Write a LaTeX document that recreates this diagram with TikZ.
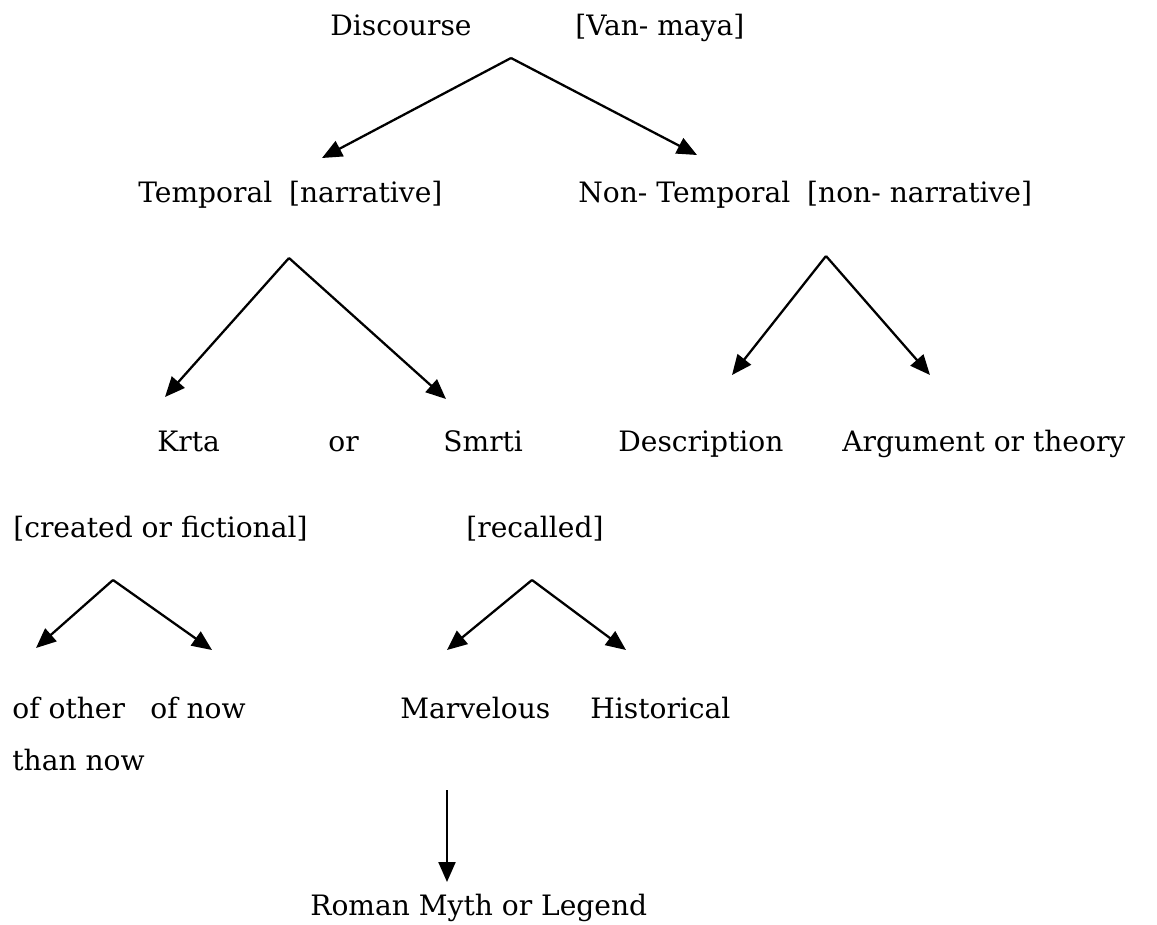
\documentclass[tikz,border=0pt]{standalone}
\usepackage{fontspec}
\setmainfont{DejaVu Serif}
\usepackage{tikz}
\usetikzlibrary{arrows.meta}

\begin{document}
\begin{tikzpicture}[x=0.02cm, y=-0.02cm,
        word/.style={anchor=base west, inner sep=0pt, font=\fontsize{16}{19}\selectfont},
        branch/.style={line width=1.3pt, -{Triangle[length=0.4cm, width=0.34cm]}}]
        \useasboundingbox (0,0) rectangle (1157,924);

        % Top level
        \node[word] (disc) at (330,35) {Discourse};
        \node[word] (van) at (575,35) {[Van- maya]};

        % Second level
        \node[word] (temp) at (138,202) {Temporal\hspace{0.6em}[narrative]};
        \node[word] (ntemp) at (578,202) {Non- Temporal\hspace{0.6em}[non- narrative]};

        % Third level
        \node[word] (krta) at (157,451) {Krta};
        \node[word] (or) at (328,451) {or};
        \node[word] (smrti) at (443,451) {Smrti};
        \node[word] (desc) at (618,451) {Description};
        \node[word] (arg) at (842,451) {Argument or theory};
        \node[word] (creat) at (13,537) {[created or fictional]};
        \node[word] (recal) at (466,537) {[recalled]};

        % Fourth level
        \node[word] (other) at (12,718) {of other};
        \node[word] (than) at (12,770) {than now};
        \node[word] (now) at (150,718) {of now};
        \node[word] (marv) at (400,718) {Marvelous};
        \node[word] (hist) at (590,718) {Historical};
        \node[word] (myth) at (310,915) {Roman Myth or Legend};

        % Branch points and arrow ends
        \coordinate (discTop) at (511,58);
        \coordinate (discL) at (322,158);
        \coordinate (discR) at (697,155);
        \coordinate (tempTop) at (289,258);
        \coordinate (tempL) at (165,397);
        \coordinate (tempR) at (446,399);
        \coordinate (ntempTop) at (826,256);
        \coordinate (ntempL) at (732,375);
        \coordinate (ntempR) at (930,375);
        \coordinate (creatTop) at (113,580);
        \coordinate (creatL) at (36,648);
        \coordinate (creatR) at (212,650);
        \coordinate (recalTop) at (532,580);
        \coordinate (recalL) at (447,650);
        \coordinate (recalR) at (626,650);
        \coordinate (marvTop) at (447,790);
        \coordinate (marvEnd) at (447,882);

        % Arrows
        \foreach \a/\b in {discTop/discL, discTop/discR, tempTop/tempL, tempTop/tempR,
                ntempTop/ntempL, ntempTop/ntempR, creatTop/creatL, creatTop/creatR,
                recalTop/recalL, recalTop/recalR, marvTop/marvEnd} {
            \draw[branch] (\a) -- (\b);
        }

    \end{tikzpicture}
\end{document}
